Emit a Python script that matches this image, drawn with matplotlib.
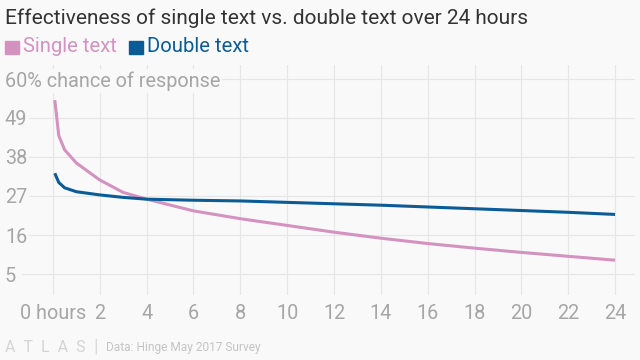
import matplotlib.pyplot as plt
from matplotlib.patches import Rectangle

# hours after first message
hours = [0.08, 0.25, 0.5, 1, 2, 3, 4, 6, 8, 10, 12, 14, 16, 18, 20, 22, 24]
single_text = [54, 44, 40, 36.3, 31.5, 28.0, 26.1, 22.8, 20.6, 18.7, 16.8, 15.1, 13.6, 12.3, 11.1, 10.0, 8.9]
double_text = [33.4, 30.8, 29.3, 28.2, 27.3, 26.6, 26.1, 25.8, 25.6, 25.2, 24.8, 24.4, 23.9, 23.4, 22.9, 22.4, 21.8]

y_ticks = [5, 16, 27, 38, 49, 60]
y_labels = ["5", "16", "27", "38", "49", "60% chance of response"]
x_ticks = list(range(0, 25, 2))
x_labels = ["0 hours"] + [str(h) for h in x_ticks[1:]]

bg = "#f9f9f9"
pink = "#d392c0"
blue = "#0b5c96"
grey = "#a6a6a6"

plt.rcParams["font.family"] = ["Roboto", "DejaVu Sans"]

fig = plt.figure(figsize=(6.4, 3.6), dpi=100, facecolor=bg)
ax = fig.add_axes([22 / 640, 65 / 360, 613 / 640, 230 / 360], facecolor=bg)

ax.plot(hours, single_text, color=pink, lw=2.2, solid_capstyle="butt")
ax.plot(hours, double_text, color=blue, lw=2.2, solid_capstyle="butt")

ax.set_xlim(-1.32, 24.85)
ax.set_ylim(-0.9, 63.9)

ax.set_yticks(y_ticks)
ax.set_yticklabels(y_labels)
ax.set_xticks(x_ticks)
ax.set_xticklabels(x_labels)
for lab in ax.get_yticklabels():
    lab.set_ha("left")
    lab.set_bbox(dict(facecolor=bg, edgecolor="none", pad=1))
ax.tick_params(axis="y", length=0, pad=12.3, labelsize=14.3, labelcolor=grey)
ax.tick_params(axis="x", length=0, pad=6.5, labelsize=14.3, labelcolor=grey)

ax.grid(True, color="#e6e6e6", lw=0.8)
ax.set_axisbelow(True)
for s in ax.spines.values():
    s.set_visible(False)

# title and legend
fig.text(5 / 640, 1 - 18 / 360, "Effectiveness of single text vs. double text over 24 hours",
         fontsize=15, color="#333333", va="center", ha="left")
fig.patches.append(Rectangle((5 / 640, 1 - 54 / 360), 14 / 640, 13 / 360,
                             transform=fig.transFigure, color=pink))
fig.patches.append(Rectangle((129 / 640, 1 - 54 / 360), 14 / 640, 13 / 360,
                             transform=fig.transFigure, color=blue))
fig.text(23 / 640, 1 - 47 / 360, "Single text", fontsize=14.6, color=pink, va="center", ha="left")
fig.text(147 / 640, 1 - 47 / 360, "Double text", fontsize=14.6, color=blue, va="center", ha="left")

# footer
fig.text(5 / 640, 1 - 348 / 360, "A  T  L  A  S", fontsize=11.5, color="#d4d4d4", va="center", ha="left")
fig.text(93 / 640, 1 - 347 / 360, "|", fontsize=14, color="#dadada", va="center", ha="left")
fig.text(106 / 640, 1 - 348 / 360, "Data: Hinge May 2017 Survey", fontsize=8.6, color="#c4c4c4",
         va="center", ha="left")

fig.savefig("out.png", dpi=100, facecolor=bg)
